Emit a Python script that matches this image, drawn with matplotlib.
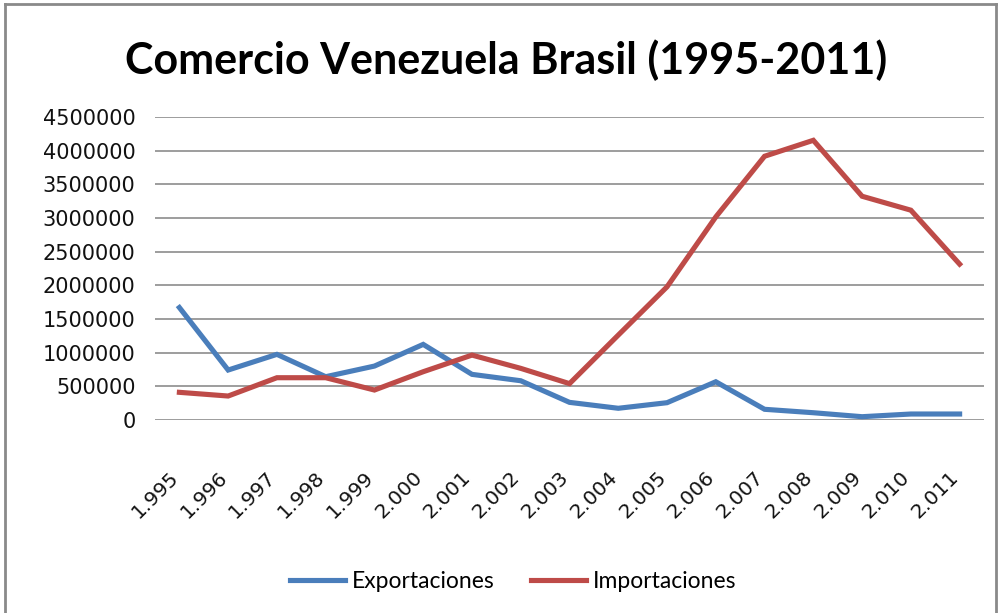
import matplotlib
matplotlib.use("Agg")
import matplotlib.pyplot as plt
from matplotlib.lines import Line2D
from matplotlib.transforms import ScaledTranslation

years = ["1.995", "1.996", "1.997", "1.998", "1.999", "2.000", "2.001", "2.002",
         "2.003", "2.004", "2.005", "2.006", "2.007", "2.008", "2.009", "2.010", "2.011"]
exportaciones = [1670000, 742000, 975000, 643000, 801000, 1123000, 678000, 583000,
                 262000, 174000, 257000, 568000, 159000, 108000, 49000, 89000, 89000]
importaciones = [411000, 356000, 628000, 628000, 445000, 717000, 964000, 767000,
                 540000, 1261000, 1978000, 3016000, 3917000, 4154000, 3323000, 3116000, 2315000]
yticks = list(range(0, 4500001, 500000))
title = "Comercio Venezuela Brasil (1995-2011)"
labels = ["Exportaciones", "Importaciones"]
colors = ["#4A7EBB", "#BE4B48"]

W, H = 1001, 613
fig = plt.figure(figsize=(W / 100, H / 100), dpi=100)
ax = fig.add_axes([155 / W, (H - 420) / H, (984 - 155) / W, (420 - 117) / H])

x = list(range(len(years)))
ax.plot(x, exportaciones, color=colors[0], lw=3.7, solid_joinstyle="miter", label=labels[0])
ax.plot(x, importaciones, color=colors[1], lw=3.7, solid_joinstyle="miter", label=labels[1])

ax.set_xlim(-0.5, len(years) - 0.5)
ax.set_ylim(0, 4500000)
ax.set_yticks(yticks)
ax.set_yticklabels([str(v) for v in yticks], fontsize=15, family="DejaVu Sans", color="#111111")
ax.yaxis.grid(True, color="#8c8c8c", lw=1.2)
ax.set_axisbelow(True)
ax.tick_params(axis="y", length=0, pad=14)
for s in ax.spines.values():
    s.set_visible(False)

ax.set_xticks(x)
ax.set_xticklabels(years, rotation=45, ha="right", va="center", rotation_mode="anchor",
                   fontsize=14.5, family="DejaVu Sans", color="#111111")
ax.tick_params(axis="x", length=0, pad=39)
off = ScaledTranslation(-4 / 100, 0, fig.dpi_scale_trans)
for lab in ax.get_xticklabels():
    lab.set_transform(lab.get_transform() + off)

fig.text(506 / W, 1 - 60 / H, title, ha="center", va="center",
         fontsize=31, fontweight="bold", family="Lato", color="black")

handles = [Line2D([], [], color=c, lw=3.7) for c in colors]
fig.legend(handles, labels, loc="center", bbox_to_anchor=(513 / W, 1 - 582 / H), ncol=2,
           frameon=False, prop={"family": "Lato", "size": 16.5}, handlelength=2.4,
           handletextpad=0.3, columnspacing=1.6)

# outer border
bc = "#8a8a8a"
fig.add_artist(Line2D([5 / W, 5 / W], [0, 1 - 4 / H], color=bc, lw=2, transform=fig.transFigure))
fig.add_artist(Line2D([5 / W, 996 / W], [1 - 4 / H, 1 - 4 / H], color=bc, lw=2, transform=fig.transFigure))
fig.add_artist(Line2D([996 / W, 996 / W], [0, 1 - 4 / H], color=bc, lw=2, transform=fig.transFigure))

fig.savefig("out.png", dpi=100)
